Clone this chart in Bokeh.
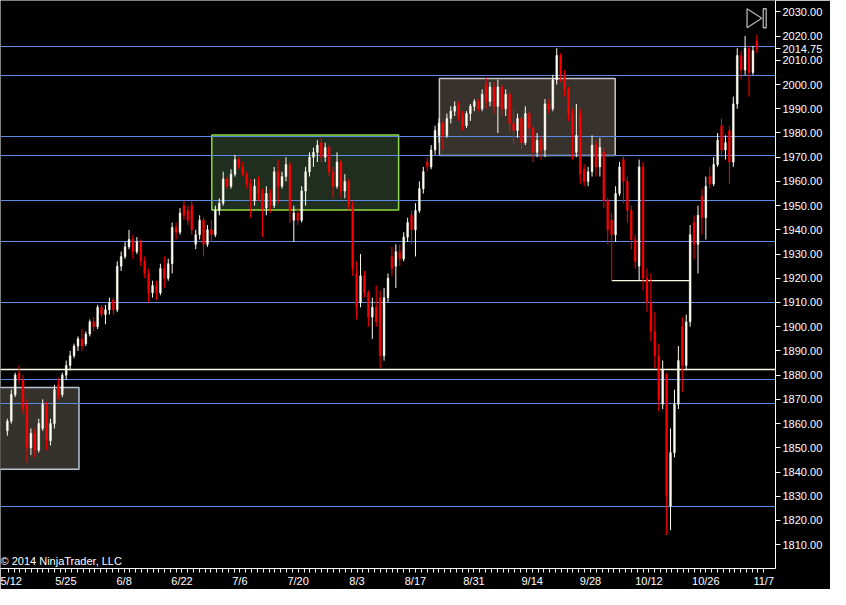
import numpy as np
from bokeh.plotting import figure
from bokeh.models import Range1d, FixedTicker, PrintfTickFormatter, Label
from bokeh.embed import file_html
from bokeh.resources import INLINE

# ---------------- data ----------------
opens = [1857, 1861, 1872, 1881, 1878, 1868, 1850, 1856, 1849, 1858,
         1868, 1853, 1860, 1876, 1872, 1880, 1884, 1888, 1892, 1895,
         1893, 1897, 1902, 1900, 1908, 1905, 1907, 1911, 1907, 1925,
         1929, 1933, 1936, 1931, 1935, 1927, 1922, 1914, 1917, 1914,
         1924, 1920, 1926, 1941, 1939, 1950, 1948, 1950, 1934, 1938,
         1944, 1934, 1940, 1938, 1948, 1951, 1961, 1958, 1963, 1969,
         1966, 1963, 1959, 1952, 1960, 1955, 1949, 1955, 1950, 1964,
         1958, 1962, 1967, 1944, 1947, 1944, 1956, 1964, 1970, 1972,
         1976, 1970, 1974, 1964, 1958, 1968, 1956, 1960, 1950, 1922,
         1910, 1921, 1914, 1904, 1908, 1912, 1888, 1912, 1929, 1925,
         1931, 1928, 1937, 1946, 1940, 1948, 1957, 1968, 1966, 1973,
         1979, 1984, 1979, 1986, 1989, 1992, 1987, 1983, 1988, 1991,
         1993, 1990, 2000, 1993, 1999, 1991, 1999, 1990, 1996, 1984,
         1981, 1986, 1976, 1988, 1982, 1972, 1977, 1973, 1992, 1990,
         2002, 2012, 2004, 1998, 1988, 1972, 1988, 1965, 1960, 1964,
         1975, 1966, 1972, 1952, 1944, 1938, 1955, 1969, 1960, 1948,
         1936, 1925, 1966, 1920, 1910, 1898, 1888, 1868, 1880, 1826,
         1848, 1868, 1900, 1884, 1902, 1943, 1934, 1954, 1945, 1962,
         1959, 1967, 1983, 1973, 1981, 1968, 1992, 2012, 2006, 2015,
         2005, 2018]
highs = [1862, 1874, 1881, 1884, 1880, 1870, 1858, 1858, 1862, 1870,
         1869, 1862, 1876, 1879, 1881, 1886, 1890, 1893, 1896, 1899,
         1898, 1903, 1904, 1909, 1909, 1909, 1912, 1912, 1927, 1931,
         1935, 1940, 1938, 1937, 1936, 1929, 1924, 1919, 1919, 1926,
         1929, 1928, 1943, 1943, 1949, 1952, 1950, 1952, 1940, 1946,
         1945, 1942, 1944, 1950, 1953, 1964, 1962, 1965, 1971, 1970,
         1968, 1964, 1961, 1961, 1962, 1957, 1958, 1957, 1966, 1969,
         1964, 1970, 1968, 1950, 1949, 1958, 1966, 1972, 1974, 1977,
         1978, 1976, 1975, 1966, 1972, 1969, 1963, 1961, 1952, 1927,
         1930, 1923, 1915, 1912, 1917, 1915, 1916, 1922, 1933, 1934,
         1934, 1939, 1945, 1948, 1951, 1960, 1966, 1970, 1975, 1983,
         1986, 1985, 1988, 1991, 1993, 1993, 1989, 1989, 1992, 1994,
         1994, 1998, 2003, 2001, 2001, 2002, 2000, 1998, 1997, 1990,
         1988, 1987, 1991, 1989, 1983, 1980, 1979, 1994, 1994, 2004,
         2015, 2013, 2006, 1999, 1990, 1992, 1990, 1967, 1966, 1979,
         1977, 1978, 1974, 1953, 1947, 1958, 1968, 1971, 1962, 1950,
         1938, 1969, 1968, 1924, 1922, 1906, 1893, 1886, 1881, 1858,
         1874, 1892, 1904, 1905, 1942, 1946, 1950, 1957, 1962, 1966,
         1970, 1980, 1986, 1979, 1983, 1995, 2015, 2014, 2020, 2016,
         2016, 2020.5]
lows = [1855, 1860, 1871, 1876, 1864, 1844, 1847, 1846, 1848, 1857,
        1849, 1851, 1858, 1870, 1871, 1878, 1882, 1887, 1890, 1890,
        1892, 1896, 1898, 1899, 1904, 1901, 1905, 1905, 1906, 1923,
        1928, 1932, 1928, 1930, 1925, 1920, 1910, 1912, 1911, 1913,
        1916, 1919, 1922, 1936, 1938, 1944, 1942, 1938, 1932, 1936,
        1929, 1933, 1935, 1937, 1946, 1950, 1957, 1957, 1962, 1965,
        1962, 1957, 1945, 1950, 1952, 1937, 1946, 1947, 1949, 1951,
        1957, 1960, 1943, 1935, 1942, 1943, 1950, 1962, 1966, 1968,
        1968, 1968, 1962, 1953, 1957, 1953, 1953, 1948, 1921, 1903,
        1908, 1912, 1900, 1895, 1900, 1883, 1886, 1910, 1921, 1916,
        1925, 1927, 1935, 1934, 1929, 1947, 1955, 1964, 1965, 1971,
        1976, 1973, 1978, 1984, 1987, 1985, 1981, 1982, 1985, 1989,
        1989, 1989, 1990, 1991, 1988, 1980, 1987, 1987, 1980, 1975,
        1978, 1973, 1975, 1978, 1968, 1970, 1969, 1970, 1988, 1989,
        2000, 2001, 1995, 1985, 1969, 1970, 1959, 1958, 1958, 1962,
        1962, 1962, 1949, 1934, 1919, 1935, 1954, 1951, 1943, 1932,
        1924, 1919, 1915, 1906, 1894, 1883, 1865, 1866, 1814, 1816,
        1846, 1866, 1873, 1882, 1900, 1928, 1922, 1938, 1936, 1957,
        1958, 1966, 1970, 1969, 1959, 1966, 1990, 2002, 2004, 1995,
        2004, 2013]
closes = [1861, 1872, 1880, 1878, 1866, 1850, 1856, 1849, 1860, 1868,
          1853, 1860, 1874, 1872, 1880, 1884, 1888, 1892, 1895, 1892,
          1897, 1902, 1900, 1908, 1905, 1907, 1910, 1907, 1925, 1929,
          1933, 1936, 1931, 1935, 1927, 1922, 1914, 1917, 1914, 1924,
          1920, 1926, 1941, 1939, 1947, 1946, 1944, 1940, 1938, 1944,
          1934, 1940, 1938, 1948, 1951, 1961, 1958, 1963, 1969, 1966,
          1963, 1959, 1952, 1958, 1955, 1949, 1955, 1950, 1964, 1958,
          1962, 1967, 1948, 1947, 1944, 1956, 1964, 1970, 1972, 1975,
          1970, 1974, 1964, 1958, 1968, 1956, 1960, 1950, 1924, 1908,
          1921, 1914, 1904, 1908, 1902, 1888, 1912, 1920, 1924, 1931,
          1928, 1937, 1943, 1940, 1948, 1957, 1964, 1966, 1973, 1981,
          1984, 1979, 1986, 1989, 1991, 1987, 1983, 1988, 1991, 1993,
          1990, 1996, 1993, 1999, 1991, 1999, 1990, 1996, 1984, 1981,
          1986, 1976, 1988, 1982, 1972, 1977, 1973, 1992, 1990, 2002,
          2012, 2004, 1998, 1988, 1980, 1979, 1963, 1960, 1964, 1975,
          1966, 1974, 1952, 1940, 1938, 1955, 1966, 1960, 1948, 1936,
          1927, 1966, 1920, 1910, 1898, 1888, 1870, 1882, 1830, 1848,
          1868, 1886, 1884, 1902, 1938, 1934, 1946, 1945, 1958, 1959,
          1967, 1977, 1973, 1976, 1968, 1992, 2012, 2006, 2015, 2005,
          2014, 2014.75]

# x-axis: date labels and the bar at which each one sits
date_labels = ["5/12", "5/25", "6/8", "6/22", "7/6", "7/20", "8/3", "8/17",
               "8/31", "9/14", "9/28", "10/12", "10/26", "11/7"]
label_bar = [0.25, 14.9, 29.75, 44.5, 59.25, 74.1, 89.1, 104.0,
             118.9, 133.75, 148.6, 163.5, 178.0, 192.75]
price_ticks = list(range(1810, 2031, 10))

# drawn objects: zones (bar from, bar to, price top, price bottom)
zone_from = [-3.0, 52.1, 110.1]
zone_to = [18.25, 99.7, 154.9]
zone_top = [1874.9, 1979.2, 2002.45]
zone_bottom = [1841.1, 1948.2, 1970.7]

blue_levels = [2015.8, 2003.7, 1978.5, 1970.7, 1952.0, 1935.0, 1910.2,
               1878.1, 1868.1, 1825.9]
white_levels = [1882.4]
step_price = 1919.0
step_from_bar = 154
step_to_bar = 174
last_price = 2014.75

# ---------------- styling ----------------
BG = "black"
UP = "#fffdf2"
DOWN = "#ff0000"
BLUE = "#5b8ce8"
CREAM = "#fff8e2"
FONT = "Liberation Sans"
zone_fill = ["#35322b", "#1f2e1f", "#37332c"]
zone_line = ["#b8c4d8", "#8fdc3c", "#c8c8c8"]

W, H = 830, 589
RIGHT_BAND, BOTTOM_BAND = 55, 20
X0, X1 = -1.75, 195.75
Y0, Y1 = 1800.16, 2034.70

p = figure(width=W, height=H, output_backend="svg", toolbar_location=None,
           x_range=Range1d(X0, X1), y_range=Range1d(Y0, Y1),
           y_axis_location="right",
           background_fill_color=BG, border_fill_color=BG,
           min_border_left=0, min_border_top=0, min_border_right=RIGHT_BAND,
           min_border_bottom=BOTTOM_BAND)
p.outline_line_color = None
p.grid.visible = False

# zones
p.quad(left=zone_from, right=zone_to, top=zone_top, bottom=zone_bottom,
       fill_color=zone_fill, line_color=zone_line, line_width=1.5)

# horizontal levels
p.hspan(y=blue_levels, line_color=BLUE, line_width=1.1)
p.hspan(y=white_levels, line_color=CREAM, line_width=1.3)
p.segment(x0=[step_from_bar], y0=[step_price], x1=[step_to_bar], y1=[step_price],
          line_color=CREAM, line_width=1.3)

# candles
o = np.array(opens, dtype=float)
h = np.array(highs, dtype=float)
l = np.array(lows, dtype=float)
c = np.array(closes, dtype=float)
x = np.arange(len(c))
cols = np.where(c >= o, UP, DOWN).tolist()
p.segment(x0=x, y0=l, x1=x, y1=h, line_color=cols, line_width=1)
p.vbar(x=x, width=0.45, top=np.maximum(o, c), bottom=np.minimum(o, c),
       fill_color=cols, line_color=cols, line_width=0.5)

# decoration: the "scroll to end" icon at top right
def rx(px):  # reference-picture px -> bar units
    return X0 + px / 4.0

def ry(py):  # reference-picture px -> price units
    return 2030 - (py - 11.7) / 2.49

p.patch(x=[rx(761), rx(776), rx(761)], y=[ry(8.5), ry(18.3), ry(28)],
        fill_color=None, line_color="#b4b4b4", line_width=1.3)
p.quad(left=[rx(777.5)], right=[rx(780.5)], top=[ry(8.5)], bottom=[ry(28)],
       fill_color=None, line_color="#b4b4b4", line_width=1.3)

# axes
xa = p.xaxis[0]
minor = []
for a, b in zip(label_bar[:-1], label_bar[1:]):
    minor.extend(np.linspace(a, b, 11)[1:-1].tolist())
xa.ticker = FixedTicker(ticks=label_bar, minor_ticks=minor)
xa.major_label_overrides = {t: s for t, s in zip(label_bar, date_labels)}
xa.axis_line_color = "white"
xa.major_tick_line_color = "white"
xa.minor_tick_line_color = "white"
xa.major_tick_out = 4
xa.major_tick_in = 0
xa.minor_tick_out = 4
xa.minor_tick_in = 0
xa.major_label_standoff = 2
xa.major_label_text_color = "white"
xa.major_label_text_font = FONT
xa.major_label_text_font_size = "11px"

# price axis; the last price is shown on the axis as its own label
ya = p.yaxis[0]
ya.ticker = FixedTicker(ticks=price_ticks + [last_price])
ya.formatter = PrintfTickFormatter(format="%.2f")
ya.axis_line_color = "white"
ya.major_tick_line_color = "white"
ya.minor_tick_line_color = None
ya.major_tick_out = 5
ya.major_tick_in = 0
ya.major_label_standoff = 2
ya.major_label_text_color = "white"
ya.major_label_text_font = FONT
ya.major_label_text_font_size = "11px"

# copyright
p.add_layout(Label(x=X0, y=Y0, y_offset=2, text="\u00a9 2014 NinjaTrader, LLC",
                   text_align="left", text_baseline="bottom",
                   text_color="white", text_font=FONT, text_font_size="11px"))

open("out.html", "w").write(file_html(p, INLINE))
